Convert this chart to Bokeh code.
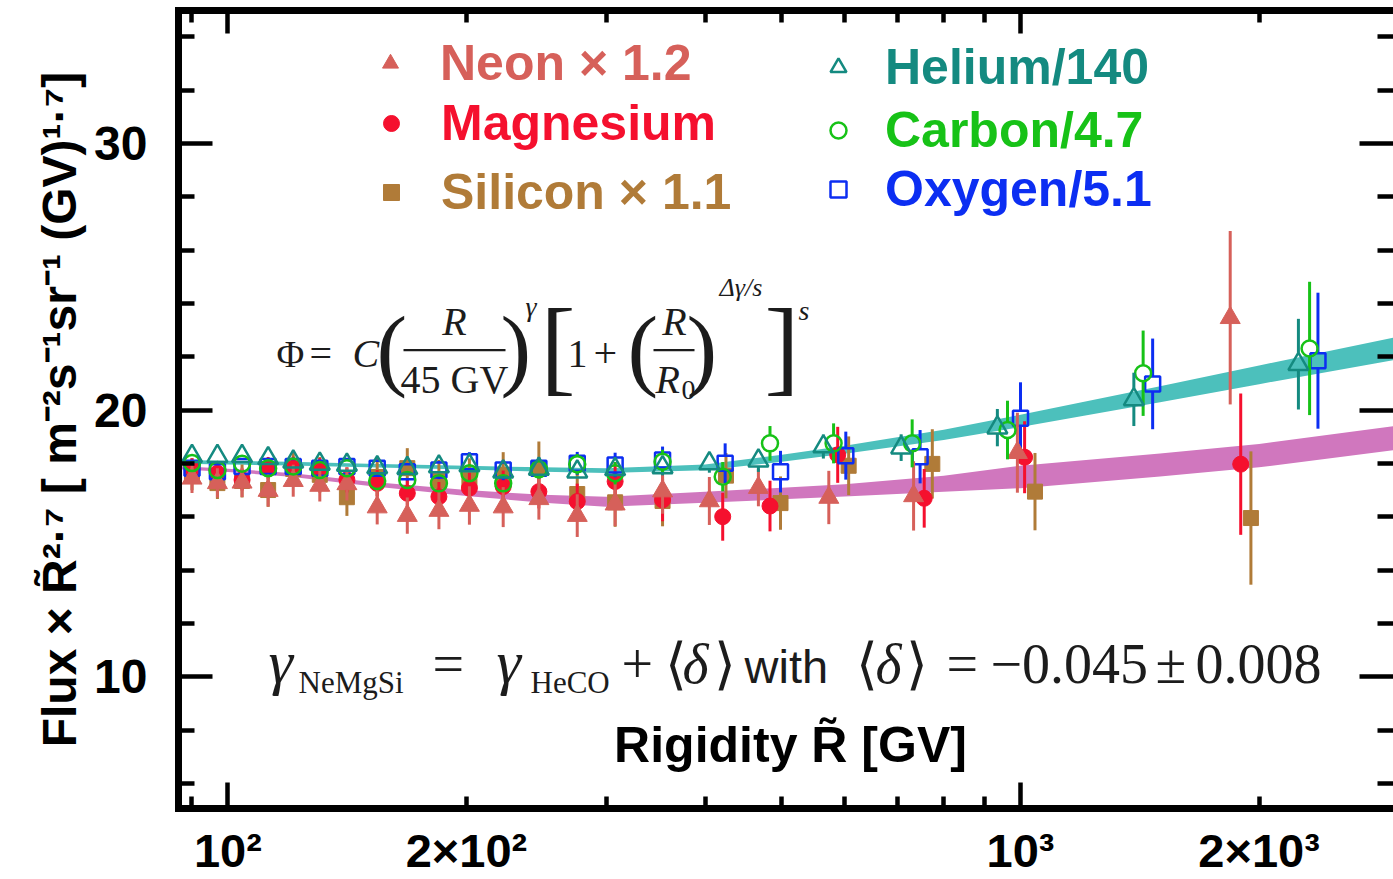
import numpy as np
from bokeh.plotting import figure
from bokeh.models import (Range1d, LinearAxis, LogAxis, FixedTicker, Legend, LegendItem,
                          Label, Arrow, CustomJSTickFormatter)
from bokeh.embed import file_html
from bokeh.resources import INLINE

# ---------------- data ----------------
x_low = [90.1, 97.0, 104.2, 112.4, 120.9, 130.6, 141.3, 154.3, 168.4, 184.6,
         201.7, 222.5, 246.8, 275.9, 308.0, 353.5]

he_x = x_low + [405, 467, 564, 707, 935, 1390, 2242]
he_y = [18.28, 18.28, 18.28, 18.20, 18.07, 17.99, 17.95, 17.86, 17.83, 17.89, 17.93, 17.70,
        17.80, 17.70, 17.79, 17.86, 18.01, 18.11, 18.64, 18.60, 19.35, 20.41, 21.73]
he_e = [0.12, 0.12, 0.12, 0.12, 0.13, 0.13, 0.14, 0.15, 0.16, 0.17, 0.18, 0.20,
        0.22, 0.24, 0.27, 0.30, 0.35, 0.42, 0.45, 0.50, 0.70, 1.00, 1.70]

c_x = x_low + [421, 483, 581, 730, 963, 1428, 2316]
c_y = [18.02, 17.76, 18.00, 17.83, 17.89, 17.76, 17.83, 17.35, 17.39, 17.26, 17.64, 17.26,
       17.79, 17.98, 17.64, 18.07, 17.51, 18.76, 18.76, 18.76, 19.26, 21.39, 22.32]
c_e = [0.20, 0.20, 0.20, 0.20, 0.22, 0.22, 0.24, 0.26, 0.28, 0.30, 0.30, 0.32,
       0.35, 0.38, 0.42, 0.45, 0.55, 0.65, 0.75, 0.90, 1.10, 1.60, 2.50]

o_x = x_low + [424, 498, 602, 747, 1000, 1468, 2373]
o_y = [17.83, 17.70, 17.89, 17.89, 17.89, 17.83, 17.89, 17.83, 17.70, 17.76, 18.07, 17.76,
       17.83, 18.01, 17.95, 18.14, 18.01, 17.70, 18.30, 18.26, 19.70, 20.99, 21.86]
o_e = [0.22, 0.22, 0.22, 0.23, 0.24, 0.25, 0.27, 0.30, 0.32, 0.34, 0.36, 0.38,
       0.40, 0.43, 0.46, 0.50, 0.75, 0.78, 0.90, 1.00, 1.35, 1.70, 2.55]

ne_x = x_low + [405, 467, 573, 733, 991, 1839]
ne_y = [17.45, 17.28, 17.30, 16.99, 17.36, 17.18, 17.24, 16.37, 16.05, 16.24, 16.43, 16.37,
        16.68, 16.05, 16.48, 16.97, 16.60, 17.10, 16.73, 16.79, 18.41, 23.47]
ne_e = [0.55, 0.55, 0.55, 0.60, 0.60, 0.60, 0.62, 0.65, 0.68, 0.70, 0.72, 0.75,
        0.78, 0.80, 0.82, 0.85, 0.90, 0.70, 1.00, 1.30, 1.50, 3.25]

mg_x = x_low + [421, 483, 588, 756, 1012, 1896]
mg_y = [17.80, 17.64, 17.39, 17.83, 17.83, 17.76, 17.39, 17.26, 16.89, 16.76, 17.08, 17.14,
        16.95, 16.58, 17.33, 16.64, 16.01, 16.41, 18.33, 16.70, 18.24, 17.98]
mg_e = [0.40, 0.40, 0.40, 0.42, 0.43, 0.45, 0.47, 0.50, 0.52, 0.55, 0.58, 0.60,
        0.63, 0.67, 0.72, 0.80, 0.90, 0.95, 1.05, 1.10, 1.35, 2.65]

si_x = x_low + [425, 498, 607, 774, 1043, 1953]
si_y = [17.60, 17.27, 17.35, 17.01, 17.80, 17.58, 16.74, 17.50, 17.83, 17.36, 17.40, 17.58,
        17.83, 16.86, 16.55, 16.60, 17.55, 16.52, 17.92, 17.99, 16.95, 15.96]
si_e = [0.60, 0.60, 0.62, 0.63, 0.65, 0.67, 0.70, 0.72, 0.75, 0.78, 0.80, 0.85,
        1.00, 0.90, 0.92, 0.95, 0.85, 1.00, 1.10, 1.30, 1.45, 2.50]

band_x = [86.6, 100, 120, 150, 200, 250, 300, 400, 500, 600, 800, 1000, 1500, 2000, 2955]
heco_mid = [18.07, 18.04, 18.00, 17.93, 17.85, 17.78, 17.74, 17.86, 18.20, 18.52, 19.08,
            19.60, 20.60, 21.33, 22.30]
heco_half = [0.07, 0.07, 0.07, 0.07, 0.07, 0.08, 0.09, 0.11, 0.13, 0.15, 0.19, 0.23,
             0.30, 0.35, 0.42]
nemgsi_mid = [17.85, 17.75, 17.58, 17.25, 16.90, 16.68, 16.57, 16.74, 16.88, 17.00, 17.25,
              17.50, 17.95, 18.30, 18.95]
nemgsi_half = [0.06, 0.06, 0.07, 0.08, 0.11, 0.15, 0.19, 0.21, 0.22, 0.23, 0.30, 0.42,
               0.43, 0.44, 0.45]

x_major = [100, 1000]
x_minor = [90, 200, 300, 400, 500, 600, 700, 800, 900, 2000]
x_labels = {100: "10²", 200: "2×10²", 1000: "10³", 2000: "2×10³"}
y_major = [10, 20, 30]
y_minor = [6, 8, 12, 14, 16, 18, 22, 24, 26, 28, 32, 34]

# ---------------- style ----------------
NE_COL, MG_COL, SI_COL = "#d6605a", "#f5102e", "#b07b38"
HE_COL, C_COL, O_COL = "#148a80", "#17c217", "#0c2ef2"
TEAL_BAND, MAG_BAND = "#4cc0bc", "#d077be"
INK = "#1c1c1c"

W, H = 1393, 879
L, T, BB = 178, 10, 70          # frame left, top, bottom border
B = H - BB                      # frame bottom (canvas px)
PPU = 26.7                      # px per y unit
y_top = 30 + (143.3 - T) / PPU
y_bot = y_top - (B - T) / PPU
dec = 792.6
lx0 = 2 - (227.4 - L) / dec
lx1 = lx0 + (W - L) / dec

p = figure(width=W, height=H, x_axis_type="log",
           x_range=Range1d(10 ** lx0, 10 ** lx1), y_range=Range1d(y_bot, y_top),
           x_axis_location=None, y_axis_location=None,
           output_backend="svg", toolbar_location=None,
           min_border_left=L, min_border_right=0, min_border_top=T, min_border_bottom=BB)
p.outline_line_color = None
p.background_fill_color = "white"
p.border_fill_color = "white"
p.grid.visible = False


def style_axis(ax, maj_in, min_in, line=True):
    ax.axis_line_width = 7
    ax.axis_line_color = "black" if line else None
    ax.axis_line_cap = "square"
    ax.major_tick_in = maj_in
    ax.major_tick_out = 0
    ax.minor_tick_in = min_in
    ax.minor_tick_out = 0
    ax.major_tick_line_width = 4.5
    ax.minor_tick_line_width = 4.5
    ax.major_tick_line_color = "black"
    ax.minor_tick_line_color = "black"


def hide_labels(ax):
    ax.formatter = CustomJSTickFormatter(code="return ''")
    ax.major_label_text_font_size = "2px"
    ax.major_label_standoff = 0


xt = FixedTicker(ticks=x_major, minor_ticks=x_minor)
yt = FixedTicker(ticks=y_major, minor_ticks=y_minor)

bottom_ticks = LogAxis(ticker=xt)
style_axis(bottom_ticks, 26, 12)
hide_labels(bottom_ticks)
p.add_layout(bottom_ticks, "below")

bottom_labels = LogAxis(ticker=FixedTicker(ticks=list(x_labels.keys()), minor_ticks=[]))
bottom_labels.axis_line_color = None
bottom_labels.major_tick_line_color = None
bottom_labels.minor_tick_line_color = None
bottom_labels.major_tick_out = 0
bottom_labels.major_tick_in = 0
bottom_labels.major_label_overrides = x_labels
bottom_labels.major_label_text_font = "Liberation Sans"
bottom_labels.major_label_text_font_style = "bold"
bottom_labels.major_label_text_font_size = "47px"
bottom_labels.major_label_text_color = "black"
bottom_labels.major_label_standoff = 15
p.add_layout(bottom_labels, "below")

top_ax = LogAxis(ticker=xt)
style_axis(top_ax, 23, 12)
hide_labels(top_ax)
p.add_layout(top_ax, "above")

left_ax = LinearAxis(ticker=yt)
style_axis(left_ax, 34, 16)
left_ax.major_label_text_font = "Liberation Sans"
left_ax.major_label_text_font_style = "bold"
left_ax.major_label_text_font_size = "48px"
left_ax.major_label_text_color = "black"
left_ax.major_label_standoff = 31
left_ax.axis_label = "Flux × R\u0303²·⁷ [ m⁻²s⁻¹sr⁻¹ (GV)¹·⁷]"
left_ax.axis_label_text_font = "Liberation Sans"
left_ax.axis_label_text_font_style = "bold"
left_ax.axis_label_text_font_size = "48px"
left_ax.axis_label_text_color = "black"
left_ax.axis_label_standoff = 5
p.add_layout(left_ax, "left")

right_ax = LinearAxis(ticker=yt)
style_axis(right_ax, 34, 16, line=False)
hide_labels(right_ax)
p.add_layout(right_ax, "right")

# ---------------- bands ----------------
bx = np.array(band_x)
hm, hh = np.array(heco_mid), np.array(heco_half)
nm, nh = np.array(nemgsi_mid), np.array(nemgsi_half)
p.varea(x=bx, y1=nm - nh, y2=nm + nh, fill_color=MAG_BAND, fill_alpha=1)
p.varea(x=bx, y1=hm - hh, y2=hm + hh, fill_color=TEAL_BAND, fill_alpha=1)


def errbars(x, y, e, color, gap_up=0.0, gap_dn=0.0):
    x, y, e = np.array(x, float), np.array(y, float), np.array(e, float)
    if gap_up == 0 and gap_dn == 0:
        p.segment(x0=x, y0=y - e, x1=x, y1=y + e, line_color=color, line_width=3)
    else:
        p.segment(x0=x, y0=y + np.minimum(gap_up, e), x1=x, y1=y + e,
                  line_color=color, line_width=3)
        p.segment(x0=x, y0=y - np.minimum(gap_dn, e), x1=x, y1=y - e,
                  line_color=color, line_width=3)


errbars(si_x, si_y, si_e, SI_COL)
si_r = p.scatter(si_x, si_y, marker="square", size=15, fill_color=SI_COL, line_color=SI_COL)
errbars(mg_x, mg_y, mg_e, MG_COL)
mg_r = p.scatter(mg_x, mg_y, marker="circle", size=16, fill_color=MG_COL, line_color=MG_COL)
errbars(o_x, o_y, o_e, O_COL, 0.28, 0.28)
o_r = p.scatter(o_x, o_y, marker="square", size=15, fill_alpha=0, line_color=O_COL, line_width=2.5)
errbars(ne_x, ne_y, ne_e, NE_COL)
ne_r = p.scatter(ne_x, ne_y, marker="triangle", size=20, fill_color=NE_COL, line_color=NE_COL)
errbars(c_x, c_y, c_e, C_COL, 0.3, 0.3)
c_r = p.scatter(c_x, c_y, marker="circle", size=16, fill_alpha=0, line_color=C_COL, line_width=2.5)
errbars(he_x, he_y, he_e, HE_COL, 0.43, 0.22)
he_r = p.scatter(he_x, he_y, marker="triangle", size=20, fill_alpha=0, line_color=HE_COL, line_width=2.5)

# ---------------- legends ----------------
legend_specs = [
    (ne_r, "Neon × 1.2", NE_COL, 390, 64, 30),
    (mg_r, "Magnesium", MG_COL, 391, 124, 30),
    (si_r, "Silicon × 1.1", SI_COL, 391, 193, 30),
    (he_r, "Helium/140", HE_COL, 838, 68, 27),
    (c_r, "Carbon/4.7", C_COL, 838, 131, 27),
    (o_r, "Oxygen/5.1", O_COL, 838, 190, 27),
]
GW, GH = 40, 60
for r, lab, col, cx, cy, so in legend_specs:
    leg = Legend(items=[LegendItem(label=lab, renderers=[r])],
                 location=(cx - GW / 2 - L, B - (cy + GH / 2)),
                 glyph_width=GW, glyph_height=GH, label_height=GH, label_standoff=so,
                 padding=0, margin=0, spacing=0,
                 background_fill_alpha=0, border_line_color=None,
                 label_text_font="Liberation Sans", label_text_font_style="bold",
                 label_text_font_size="50px", label_text_color=col)
    p.add_layout(leg)


# ---------------- texts ----------------
def txt(s, px, py, size, font="Liberation Serif", style="normal", align="left", color=INK):
    """Place text so that its alphabetic baseline sits at canvas row py."""
    p.add_layout(Label(x=px - L, y=B - (py - 0.32 * size), x_units="screen", y_units="screen",
                       text=s, text_font=font, text_font_style=style,
                       text_font_size=f"{size}px", text_color=color,
                       text_align=align, text_baseline="middle"))


def to_dx(px):
    return 10 ** (lx0 + (px - L) / dec)


def to_dy(py):
    return y_top - (py - T) / PPU


def frac_bar(px0, px1, py):
    p.add_layout(Arrow(start=None, end=None, x_start=to_dx(px0), y_start=to_dy(py),
                       x_end=to_dx(px1), y_end=to_dy(py), line_color=INK, line_width=2.2))


# x axis title (inside the frame)
p.add_layout(Label(x=790 - L, y=B - 745, x_units="screen", y_units="screen",
                   text="Rigidity R\u0303 [GV]", text_font="Liberation Sans",
                   text_font_style="bold", text_font_size="50px", text_color="black",
                   text_align="center", text_baseline="middle"))

# formula 1
txt("Φ", 276, 367, 38)
txt("=", 309, 367, 40)
txt("C", 352, 367, 40, style="italic")
txt("(", 376, 378, 92)
txt("R", 454, 335, 40, style="italic", align="center")
frac_bar(403, 505, 350)
txt("45 GV", 454, 393, 40, align="center")
txt(")", 500, 378, 92)
txt("γ", 525, 316, 28, style="italic")
txt("[", 540, 381, 105)
txt("1", 567, 367, 40)
txt("+", 593, 367, 42)
txt("(", 627, 378, 92)
txt("R", 674, 335, 40, style="italic", align="center")
frac_bar(653, 694, 350)
txt("R", 655, 393, 40, style="italic")
txt("0", 681, 399, 28)
txt(")", 686, 378, 92)
txt("Δγ/s", 719, 296, 26, style="italic")
txt("]", 764, 381, 105)
txt("s", 798, 320, 28, style="italic")

# formula 2
txt("γ", 268, 682, 62, style="italic")
txt("NeMgSi", 298, 693, 31)
txt("=", 432, 682, 56)
txt("γ", 496, 682, 62, style="italic")
txt("HeCO", 530, 693, 31)
txt("+", 621, 682, 56)
txt("⟨", 664, 682, 56)
txt("δ", 682, 682, 56, style="italic")
txt("⟩", 713, 682, 56)
txt("with", 744, 682, 47, font="Liberation Sans")
txt("⟨", 855, 682, 56)
txt("δ", 875, 682, 56, style="italic")
txt("⟩", 905, 682, 56)
txt("=", 946, 682, 56)
txt("−0.045", 990, 682, 56)
txt("±", 1155, 682, 56)
txt("0.008", 1195, 682, 56)

open("out.html", "w").write(file_html(p, INLINE))
